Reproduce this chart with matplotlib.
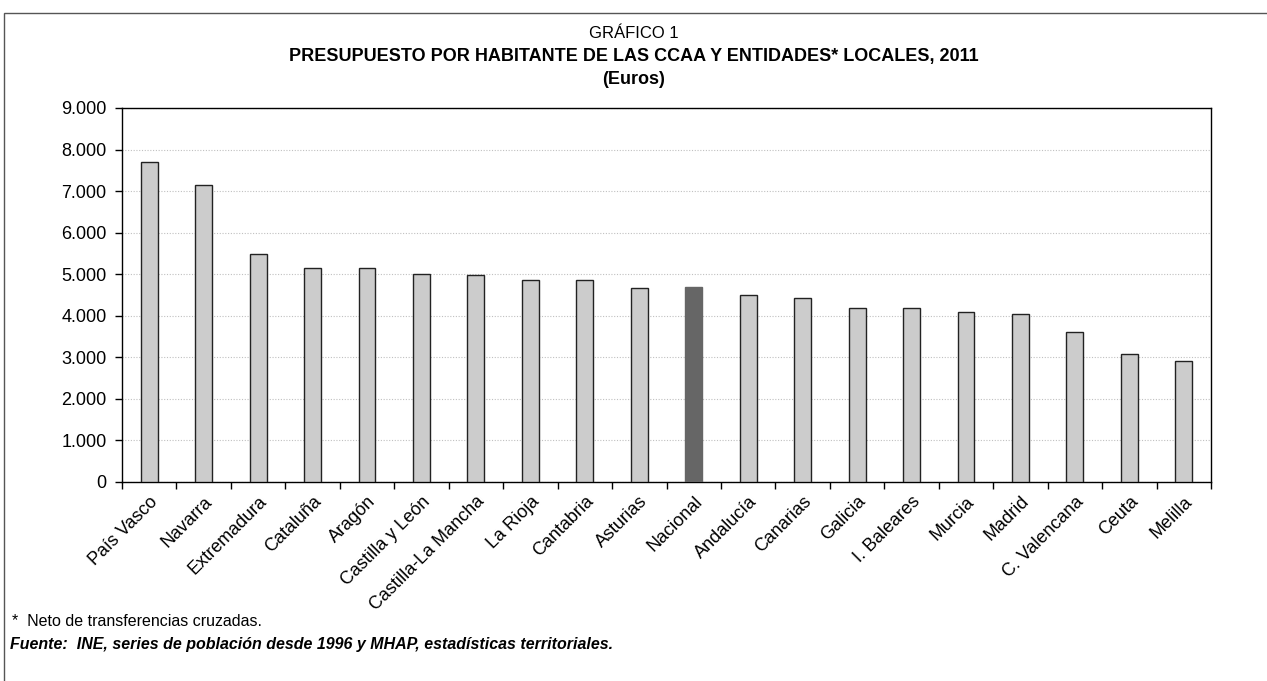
import matplotlib.pyplot as plt
import matplotlib.patches as mpatches
from matplotlib.ticker import FuncFormatter, FixedLocator
import numpy as np

plt.rcParams['font.family'] = ['Liberation Sans', 'DejaVu Sans']

# -------------------------------------------------------------------------------------------------
# Data
# -------------------------------------------------------------------------------------------------
regiones = ["País Vasco", "Navarra", "Extremadura", "Cataluña", "Aragón", "Castilla y León",
            "Castilla-La Mancha", "La Rioja", "Cantabria", "Asturias", "Nacional", "Andalucía",
            "Canarias", "Galicia", "I. Baleares", "Murcia", "Madrid", "C. Valencana", "Ceuta",
            "Melilla"]
presupuesto = [7700, 7150, 5490, 5160, 5160, 5000, 4980, 4850, 4850, 4680, 4690, 4490,
               4420, 4180, 4180, 4100, 4050, 3620, 3070, 2920]
destacado = "Nacional"

# -------------------------------------------------------------------------------------------------
# Plot
# -------------------------------------------------------------------------------------------------
fig = plt.figure(figsize=(12.67, 6.81), dpi=100)
ax = fig.add_axes([122 / 1267, 1 - 482 / 681, (1211 - 122) / 1267, (482 - 108) / 681])

x = np.arange(len(regiones))
colores = ['#666666' if r == destacado else '#cccccc' for r in regiones]
bordes = ['#666666' if r == destacado else '#222222' for r in regiones]
ax.bar(x, presupuesto, width=0.31, color=colores, edgecolor=bordes, linewidth=1, zorder=3)

ax.set_xlim(-0.5, len(regiones) - 0.5)
ax.set_ylim(0, 9000)
ax.set_yticks(np.arange(0, 9001, 1000))
ax.yaxis.set_major_formatter(FuncFormatter(lambda v, p: "{:,.0f}".format(v).replace(",", ".")))
ax.grid(axis='y', color='#c0c0c0', linestyle=(0, (1, 1.5)), linewidth=0.8, zorder=0)

ax.set_xticks(x)
ax.set_xticklabels(regiones, rotation=45, ha='right', va='top', rotation_mode='anchor', fontsize=13)
ax.tick_params(axis='x', which='major', length=0, pad=8)
ax.xaxis.set_minor_locator(FixedLocator(np.arange(-0.5, len(regiones), 1)))
ax.tick_params(axis='x', which='minor', length=5, width=1, direction='out')
ax.tick_params(axis='y', length=5, width=1, direction='out', labelsize=13, pad=6)

for s in ax.spines.values():
    s.set_linewidth(1)
    s.set_color('black')

# titles
fig.text(0.5, 1 - 33 / 681, "GRÁFICO 1", ha='center', va='center', fontsize=12)
fig.text(0.5, 1 - 57 / 681, "PRESUPUESTO POR HABITANTE DE LAS CCAA Y ENTIDADES* LOCALES, 2011",
         ha='center', va='center', fontsize=13, fontweight='bold')
fig.text(0.5, 1 - 80 / 681, "(Euros)", ha='center', va='center', fontsize=13, fontweight='bold')

# footnotes
fig.text(12 / 1267, 1 - 621 / 681, "*  Neto de transferencias cruzadas.", ha='left', va='center',
         fontsize=11.5)
fig.text(10 / 1267, 1 - 644 / 681,
         "Fuente:  INE, series de población desde 1996 y MHAP, estadísticas territoriales.",
         ha='left', va='center', fontsize=11.5, fontweight='bold', fontstyle='italic')

# outer frame
fig.patches.append(mpatches.Rectangle((4 / 1267, -0.01), 1.2, 1 - 13 / 681 + 0.01,
                                      transform=fig.transFigure, fill=False,
                                      edgecolor='#555555', linewidth=1))

fig.savefig("out.png", dpi=100)
